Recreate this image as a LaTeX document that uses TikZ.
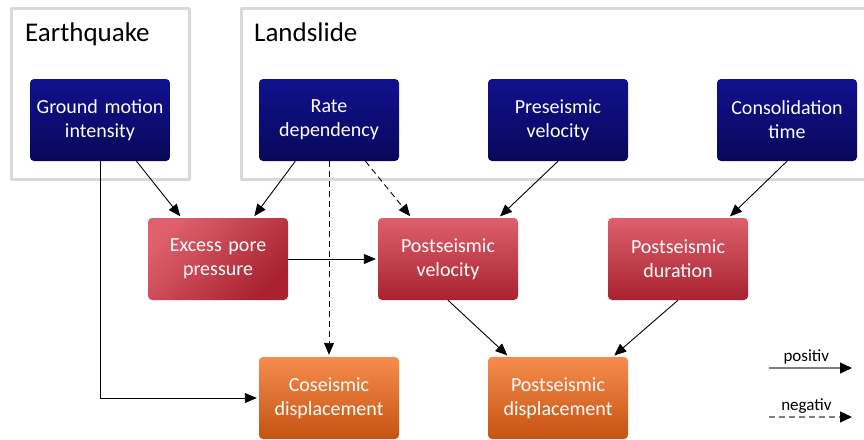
\documentclass[tikz,border=0pt]{standalone}
\usepackage{fontspec}
\setmainfont{Carlito}
\usetikzlibrary{arrows.meta,calc}
\definecolor{bluetop}{HTML}{11118E}
\definecolor{bluebot}{HTML}{08085A}
\definecolor{redtop}{HTML}{DE606C}
\definecolor{redbot}{HTML}{A8222F}
\definecolor{orangetop}{HTML}{F58C4D}
\definecolor{orangebot}{HTML}{C65312}
\definecolor{framegray}{HTML}{D9D9D9}
\definecolor{legendgray}{HTML}{7F7F7F}

\begin{document}
\begin{tikzpicture}[x=1pt,y=-1pt, line join=round,
	varbox/.style={rounded corners=4pt, minimum width=140pt, minimum height=82pt, text width=136pt, align=center, inner sep=0pt, text=white, font=\fontsize{20}{24}\selectfont},
	cause/.style={varbox, top color=bluetop, bottom color=bluebot},
	effect/.style={varbox, top color=redtop, bottom color=redbot},
	result/.style={varbox, top color=orangetop, bottom color=orangebot},
	groupframe/.style={draw=framegray, line width=3pt},
	grouptitle/.style={anchor=base west, inner sep=0pt, font=\fontsize{27}{30}\selectfont},
	posarrow/.style={-{Triangle[length=12pt,width=10pt]}, line width=0.9pt, shorten >=2pt},
	negarrow/.style={posarrow, dash pattern=on 6pt off 4pt},
	legendlabel/.style={above, inner sep=3pt, font=\fontsize{17}{20}\selectfont}]
	\useasboundingbox (0,0) rectangle (864,439);
	\clip (0,0) rectangle (864,439);
	% groups
	\draw[groupframe] (11,8) rectangle (189,179);
	\draw[groupframe] (241,8) rectangle (875,179);
	\node[grouptitle] (eq) at (25,41) {Earthquake};
	\node[grouptitle] (ls) at (254,41) {Landslide};
	% boxes
	\node[cause] (gmi) at (100,120) {Ground motion\\intensity};
	\node[cause] (rd) at (329,120) {Rate\\dependency};
	\node[cause] (pv) at (558,120) {Preseismic\\velocity};
	\node[cause] (ct) at (787,120) {Consolidation\\time};
	\node[effect, shading angle=45] (epp) at (218,259) {Excess pore\\pressure};
	\node[effect] (psv) at (448,259) {Postseismic\\velocity};
	\node[effect] (psd) at (678,259) {Postseismic\\duration};
	\node[result] (cd) at (329,398) {Coseismic\\displacement};
	\node[result] (pd) at (558,398) {Postseismic\\displacement};
	% links
	\draw[posarrow] ($(gmi.south west)!0.76!(gmi.south east)$) -- ($(epp.north west)!0.24!(epp.north east)$);
	\draw[posarrow] ($(rd.south west)!0.26!(rd.south east)$) -- ($(epp.north west)!0.75!(epp.north east)$);
	\draw[negarrow] ($(rd.south west)!0.76!(rd.south east)$) -- ($(psv.north west)!0.24!(psv.north east)$);
	\draw[negarrow] (rd.south) -- (cd.north);
	\draw[posarrow] (pv.south) -- ($(psv.north west)!0.86!(psv.north east)$);
	\draw[posarrow] (ct.south) -- ($(psd.north west)!0.86!(psd.north east)$);
	\draw[posarrow] (epp.east) -- (psv.west);
	\draw[posarrow] (gmi.south) |- (cd.west);
	\draw[posarrow] (psv.south) -- ($(pd.north west)!0.15!(pd.north east)$);
	\draw[posarrow] (psd.south) -- ($(pd.north west)!0.89!(pd.north east)$);
	% legend
	\coordinate (posa) at (769,368); \coordinate (posb) at (852,368);
	\coordinate (nega) at (769,417); \coordinate (negb) at (852,417);
	\draw[posarrow, draw=legendgray, line width=1.2pt, shorten >=0pt, -{Triangle[length=12pt,width=11pt,color=black]}] (posa) -- (posb) node[legendlabel, pos=0.45] (poslab) {positiv};
	\draw[negarrow, draw=legendgray, line width=1.2pt, shorten >=0pt, -{Triangle[length=12pt,width=11pt,color=black]}] (nega) -- (negb) node[legendlabel, pos=0.45] (neglab) {negativ};
\end{tikzpicture}
\end{document}
